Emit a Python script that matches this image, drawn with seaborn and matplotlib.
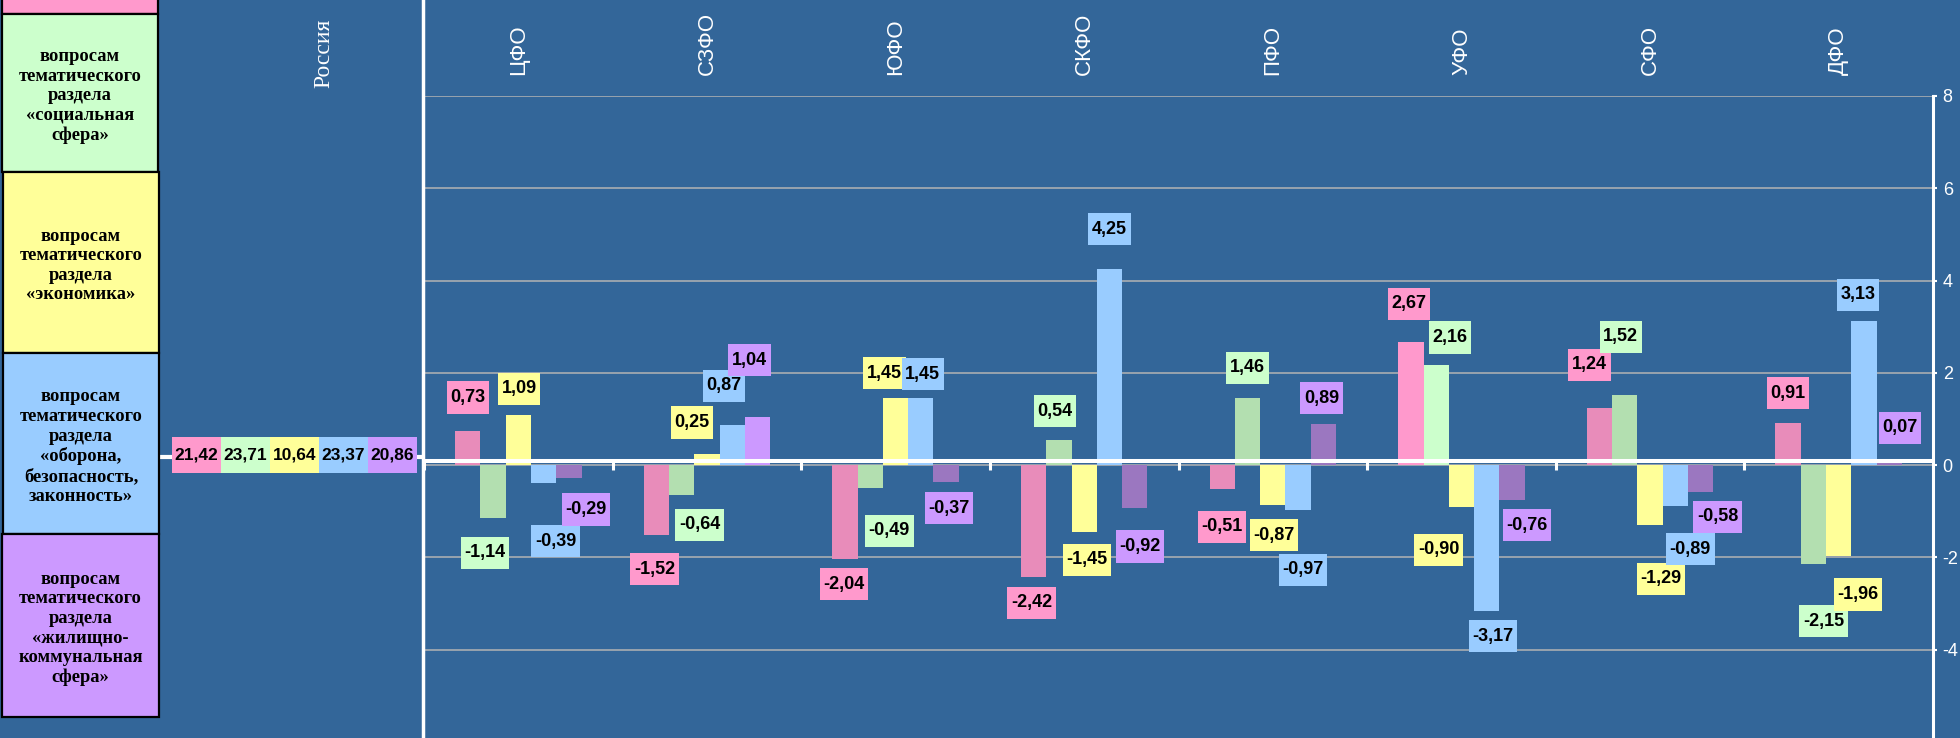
import numpy as np
import pandas as pd
import matplotlib
matplotlib.use("Agg")
import matplotlib.pyplot as plt
import seaborn as sns
from matplotlib.colors import ListedColormap
from matplotlib.patches import Rectangle
from matplotlib.lines import Line2D
from matplotlib.path import Path
from matplotlib import transforms, font_manager

# data: deviation from the Russian average by federal district
regions = ['ЦФО', 'СЗФО', 'ЮФО', 'СКФО', 'ПФО', 'УФО', 'СФО', 'ДФО']
sections = ['государство', 'социальная сфера', 'экономика',
            'оборона, безопасность, законность', 'жилищно-коммунальная сфера']

vals_pink = [0.73, -1.52, -2.04, -2.42, -0.51, 2.67, 1.24, 0.91]
vals_green = [-1.14, -0.64, -0.49, 0.54, 1.46, 2.16, 1.52, -2.15]
vals_yellow = [1.09, 0.25, 1.45, -1.45, -0.87, -0.90, -1.29, -1.96]
vals_blue = [-0.39, 0.87, 1.45, 4.25, -0.97, -3.17, -0.89, 3.13]
vals_purple = [-0.29, 1.04, -0.37, -0.92, 0.89, -0.76, -0.58, 0.07]

russia = [21.42, 23.71, 10.64, 23.37, 20.86]

box_texts = [
    '',
    'вопросам\nтематического\nраздела\n«социальная\nсфера»',
    'вопросам\nтематического\nраздела\n«экономика»',
    'вопросам\nтематического\nраздела\n«оборона,\nбезопасность,\nзаконность»',
    'вопросам\nтематического\nраздела\n«жилищно-\nкоммунальная\nсфера»',
]

# colours: label / highlighted bar, ordinary bar
bright = ['#FF99CC', '#CCFFCC', '#FFFF99', '#99CCFF', '#CC99FF']
dull = ['#E88CBA', '#B3DFB0', '#FFFF99', '#99CCFF', '#9B77C0']
bg = '#336699'

# hand placement of the value labels (pixels: dx, distance from bar end)
label_nudge = [
    [(0, 34), (-8, 35), (1, 26), (12, 58), (17, 31)],
    [(-2, 34), (18, 30), (-15, 31), (-8, 39), (-8, 57)],
    [(-1, 25), (19, 43), (-11, 25), (2, 24), (3, 26)],
    [(-2, 26), (-4, 29), (3, 28), (0, 40), (5, 39)],
    [(0, 38), (0, 30), (1, 30), (5, 60), (-2, 26)],
    [(-2, 38), (14, 28), (-23, 43), (6, 25), (15, 25)],
    [(-10, 43), (-4, 58), (11, 54), (15, 43), (17, 25)],
    [(0, 30), (10, 57), (19, 39), (-6, 26), (11, 34)],
]

df = pd.DataFrame({
    'region': regions * 5,
    'section': np.repeat(sections, len(regions)),
    'value': vals_pink + vals_green + vals_yellow + vals_blue + vals_purple,
})

fnames = {f.name for f in font_manager.fontManager.ttflist}
narrow = 'Liberation Sans Narrow' if 'Liberation Sans Narrow' in fnames else 'Liberation Sans'
plt.rcParams['axes.unicode_minus'] = False
plt.rcParams['font.family'] = ['Liberation Sans', 'DejaVu Sans']


def fmt(v):
    return f'{v:.2f}'.replace('.', ',')


def label_box(x0, y0, width, height, mutation_size):
    # taller than wide padding, like the Excel data label boxes
    padx, pady = 0.2 * mutation_size, 0.42 * mutation_size
    return Path([(x0 - padx, y0 - pady), (x0 + width + padx, y0 - pady),
                 (x0 + width + padx, y0 + height + pady), (x0 - padx, y0 + height + pady),
                 (x0 - padx, y0 - pady)], closed=True)


W, H = 1960, 738


def px(x0, y0, x1, y1):
    return [x0 / W, 1 - y1 / H, (x1 - x0) / W, (y1 - y0) / H]


fig = plt.figure(figsize=(W / 100, H / 100), dpi=100, facecolor=bg)

# main chart
ax = fig.add_axes(px(424, 96, 1933, 738))
ax.set_facecolor(bg)
sns.barplot(data=df, x='region', y='value', hue='section', order=regions,
            hue_order=sections, palette=dull, width=0.67, saturation=1,
            linewidth=0, errorbar=None, legend=False, ax=ax)

for k, cont in enumerate(ax.containers):
    vals = np.asarray(cont.datavalues)
    cont.patches[int(np.argmax(vals))].set_facecolor(bright[k])
    for i, bar in enumerate(cont.patches):
        v = vals[i]
        dx, dy = label_nudge[i][k]
        ax.annotate(fmt(v), xy=(bar.get_x() + bar.get_width() / 2, v),
                    xytext=(dx, dy if v >= 0 else -dy), textcoords='offset pixels',
                    ha='center', va='center', fontsize=13, fontweight='bold',
                    family=narrow, color='black', zorder=6,
                    bbox=dict(boxstyle=label_box, fc=bright[k], ec='none'))

ax.set_xlim(-0.5, len(regions) - 0.5)
ax.set_ylim(-5.915, 8)
ax.set_yticks([-4, -2, 0, 2, 4, 6, 8])
ax.yaxis.tick_right()
ax.tick_params(axis='y', colors='white', length=3, width=1.5, pad=4, labelsize=13)
ax.tick_params(axis='x', length=0, labelbottom=False)
ax.set_xlabel('')
ax.set_ylabel('')
for s in ['top', 'left', 'bottom']:
    ax.spines[s].set_visible(False)
ax.spines['right'].set_color('white')
ax.spines['right'].set_linewidth(2.2)
ax.yaxis.grid(True, color='#B4B4B4', lw=1.1)
ax.set_axisbelow(True)

# category axis
ax.axhline(0.087, color='white', lw=2.9, zorder=4)
ax.vlines(np.arange(len(regions)) - 0.5, -0.1, 0.087, color='white', lw=2.2, zorder=4)

trans = transforms.blended_transform_factory(ax.transData, fig.transFigure)
for i, r in enumerate(regions):
    ax.text(i, 1 - 75 / H, r, rotation=90, ha='center', va='bottom', color='white',
            fontsize=16, transform=trans, clip_on=False)

fig.add_artist(Line2D([423 / W] * 2, [0, 1], color='white', lw=2.5))

# left legend boxes
boxes = [(2, -5, 158, 14), (2, 14, 158, 172), (3, 172, 159, 353),
         (3, 353, 159, 534), (2, 534, 159, 717)]
for k, (x0, y0, x1, y1) in enumerate(boxes):
    fig.add_artist(Rectangle((x0 / W, 1 - y1 / H), (x1 - x0) / W, (y1 - y0) / H,
                             transform=fig.transFigure, fc=bright[k], ec='black', lw=1.6))
    if box_texts[k]:
        fig.text((x0 + x1) / 2 / W, 1 - ((y0 + y1) / 2 + 3) / H, box_texts[k],
                 ha='center', va='center', multialignment='center',
                 family='Liberation Serif', fontweight='bold', fontsize=13.3,
                 linespacing=1.2, color='black')

# Russia panel
fig.text(324 / W, 1 - 88 / H, 'Россия', rotation=90, ha='center', va='bottom',
         color='white', family='Liberation Serif', fontsize=17)
fig.add_artist(Line2D([160 / W, 420 / W], [1 - 456.5 / H] * 2, color='white', lw=3, zorder=-1))
ax_ru = fig.add_axes(px(172, 437, 417, 473))
sns.heatmap(np.arange(5)[None, :], cmap=ListedColormap(bright), vmin=-0.5, vmax=4.5,
            annot=np.array([[fmt(v) for v in russia]]), fmt='', cbar=False,
            xticklabels=False, yticklabels=False, ax=ax_ru,
            annot_kws=dict(color='black', fontweight='bold', fontsize=12.5))

fig.savefig('out.png', dpi=100, facecolor=bg)
